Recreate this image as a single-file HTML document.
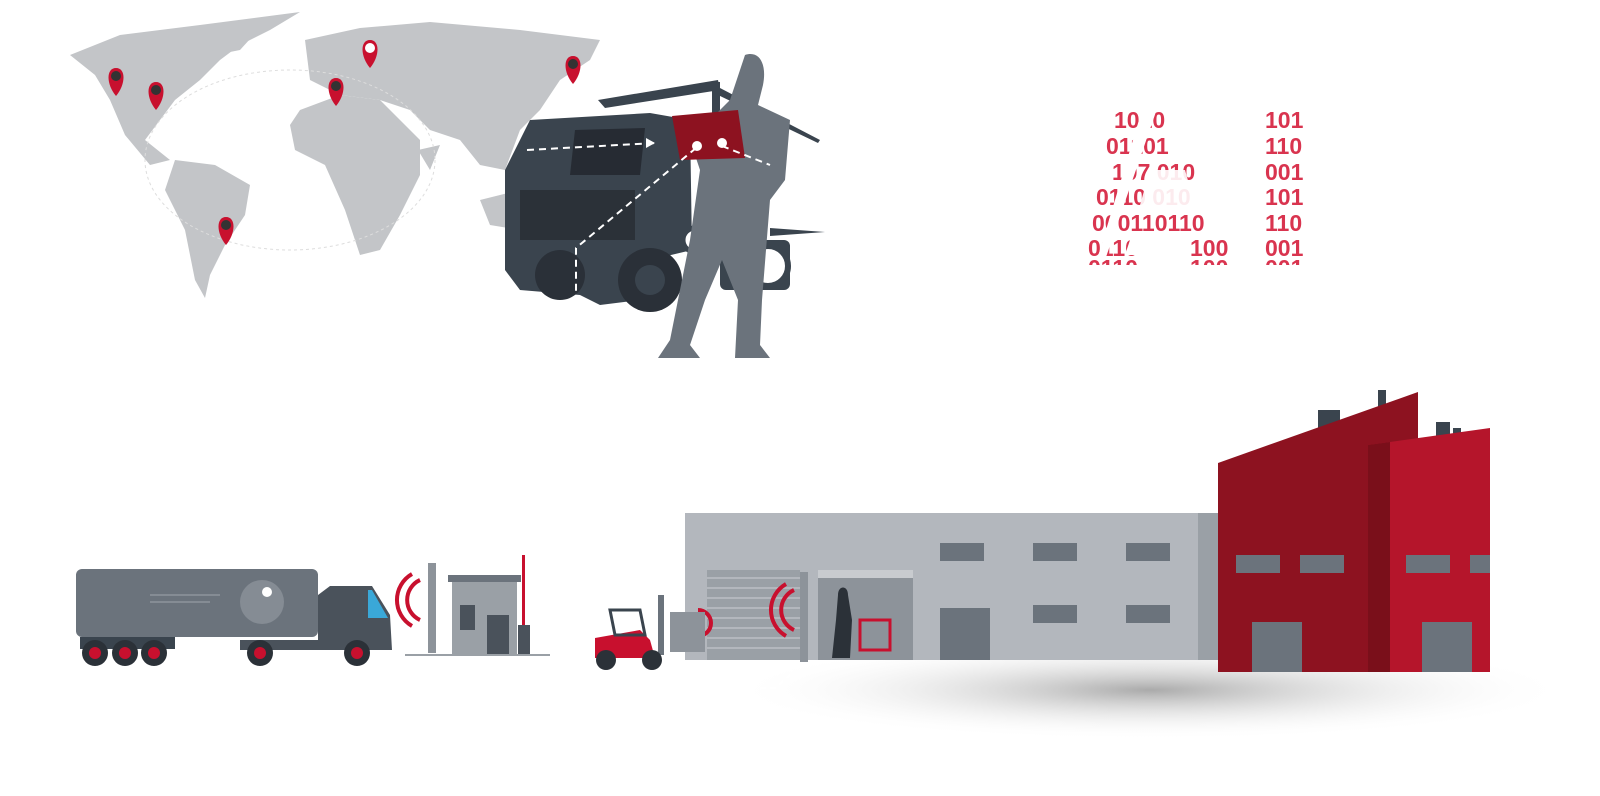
<!DOCTYPE html>
<html><head><meta charset="utf-8"><style>
html,body{margin:0;padding:0;background:#fff;width:1600px;height:796px;overflow:hidden}
svg{display:block}
text{font-family:"Liberation Sans",sans-serif;font-weight:bold;fill:#d9344f;font-size:23px}
</style></head><body>
<svg width="1600" height="796" viewBox="0 0 1600 796">
<defs>
<radialGradient id="sh" cx="0.5" cy="0.5" r="0.5"><stop offset="0" stop-color="#aaa"/><stop offset="1" stop-color="#fff" stop-opacity="0"/></radialGradient>
</defs>
<!-- world map -->
<g fill="#c3c5c8">
<path d="M70,55 L120,35 L200,25 L300,12 L270,30 L240,45 L220,60 L200,80 L175,100 L160,120 L145,140 L170,160 L150,165 L125,135 L110,100 L95,75 Z"/>
<path d="M175,160 L215,165 L250,185 L245,215 L225,245 L210,275 L205,298 L195,280 L185,230 L165,190 Z"/>
<path d="M200,30 L230,22 L260,28 L240,50 L215,55 Z"/>
<path d="M300,110 L340,95 L380,100 L420,140 L420,175 L400,215 L380,250 L360,255 L345,210 L325,165 L295,150 L290,125 Z"/>
<path d="M305,40 L360,28 L430,22 L520,30 L600,40 L590,60 L560,80 L540,110 L520,130 L505,170 L480,165 L460,140 L430,130 L410,110 L380,100 L340,95 L310,80 Z"/>
<path d="M418,150 L440,145 L430,170 Z"/>
<path d="M480,200 L520,190 L540,210 L520,230 L490,225 Z"/>
</g>
<g fill="none" stroke="#ddd" stroke-width="1" stroke-dasharray="3,3"><ellipse cx="290" cy="160" rx="145" ry="90"/></g>
<!-- pins -->
<g fill="#c8102e">
<path d="M116,96 c-10,-12 -10,-28 0,-28 c10,0 10,16 0,28z"/><circle cx="116" cy="76" r="5" fill="#333"/>
<path d="M156,110 c-10,-12 -10,-28 0,-28 c10,0 10,16 0,28z"/><circle cx="156" cy="90" r="5" fill="#333"/>
<path d="M226,245 c-10,-12 -10,-28 0,-28 c10,0 10,16 0,28z"/><circle cx="226" cy="225" r="5" fill="#333"/>
<path d="M336,106 c-10,-12 -10,-28 0,-28 c10,0 10,16 0,28z"/><circle cx="336" cy="86" r="5" fill="#333"/>
<path d="M370,68 c-10,-12 -10,-28 0,-28 c10,0 10,16 0,28z"/><circle cx="370" cy="48" r="5" fill="#fff"/>
<path d="M573,84 c-10,-12 -10,-28 0,-28 c10,0 10,16 0,28z"/><circle cx="573" cy="64" r="5" fill="#333"/>
</g>
<!-- truck top -->
<g fill="#3a444e">
<path d="M598,100 L718,80 L720,90 L605,108 Z"/>
<rect x="712" y="82" width="8" height="90"/>
<path d="M720,88 L820,140 L818,143 L718,95 Z"/>
<path d="M770,228 L825,232 L770,236 Z"/>
<rect x="720" y="240" width="70" height="50" rx="6"/>
<circle cx="768" cy="266" r="20" fill="#fff" stroke="#3a444e" stroke-width="6"/>
<path d="M530,120 L650,113 L690,120 L692,250 L650,260 L640,300 L600,305 L580,295 L520,290 L505,270 L505,170 Z"/>
<circle cx="650" cy="280" r="32" fill="#2a3038"/>
<circle cx="650" cy="280" r="15" fill="#3a444e"/>
<circle cx="560" cy="275" r="25" fill="#2a3038"/>
</g>
<path d="M575,130 L645,128 L640,175 L570,175 Z" fill="#262b33"/>
<rect x="520" y="190" width="115" height="50" fill="#2b3138"/>
<circle cx="695" cy="240" r="12" fill="#fff" stroke="#3a444e" stroke-width="5"/>
<!-- man -->
<path fill="#6b737c" d="M745,55 c15,-5 22,10 18,30 L758,105 L790,120 L785,180 L770,200 L762,300 L760,345 L770,358 L735,358 L738,300 L722,260 L705,300 L690,345 L700,358 L658,358 L670,340 L690,240 L700,170 L690,140 L730,100 Z"/>
<path fill="#8d1220" d="M672,116 L738,110 L745,158 L680,160 Z"/>
<g stroke="#fff" stroke-width="2" stroke-dasharray="7,5" fill="none">
<path d="M527,150 L655,143"/><path d="M696,148 L576,248 L576,295"/><path d="M722,146 L770,165"/>
<path d="M242,570 L270,594"/><path d="M1222,465 L1275,505"/><path d="M905,515 L890,600"/><path d="M922,515 L905,600"/>
</g>
<path d="M655,143 l-9,-5 l0,10z" fill="#fff"/>
<circle cx="697" cy="146" r="5" fill="#fff"/><circle cx="722" cy="143" r="5" fill="#fff"/>
<!-- binary -->
<text x="1114" y="128">1010</text>
<text x="1106" y="154">01101</text>
<text x="1112" y="180">107 010</text>
<text x="1096" y="205">0110 010</text>
<text x="1092" y="231">000110110</text>
<text x="1088" y="256">0110</text><text x="1190" y="256">100</text>
<text x="1088" y="276">0110</text><text x="1190" y="276">100</text>
<g><text x="1265" y="128">101</text><text x="1265" y="154">110</text><text x="1265" y="180">001</text><text x="1265" y="205">101</text><text x="1265" y="231">110</text><text x="1265" y="256">001</text><text x="1265" y="276">001</text></g>
<rect x="1080" y="265" width="240" height="30" fill="#fff"/>
<g fill="#fff"><path d="M1145,100 L1160,100 L1105,260 L1097,260Z"/><path d="M1190,100 L1200,100 L1245,260 L1235,260Z"/><path d="M1150,170 L1185,170 L1195,205 L1140,205Z" opacity="0.9"/><path d="M1130,240 L1185,240 L1190,255 L1125,255Z"/></g>
<!-- shadow -->
<ellipse cx="1150" cy="690" rx="420" ry="50" fill="url(#sh)"/>
<!-- warehouse -->
<rect x="685" y="513" width="535" height="147" fill="#b3b7bd"/>
<rect x="707" y="570" width="93" height="90" fill="#9aa0a6"/>
<g stroke="#b3b7bd" stroke-width="2"><path d="M707,578h93M707,588h93M707,598h93M707,608h93M707,618h93M707,628h93M707,638h93M707,648h93"/></g>
<rect x="818" y="570" width="95" height="90" fill="#8d939a"/>
<rect x="818" y="570" width="95" height="8" fill="#c8cbcf"/>
<g fill="#6b737c"><rect x="940" y="543" width="44" height="18"/><rect x="1033" y="543" width="44" height="18"/><rect x="1126" y="543" width="44" height="18"/><rect x="1033" y="605" width="44" height="18"/><rect x="1126" y="605" width="44" height="18"/><rect x="940" y="608" width="50" height="52"/></g>
<rect x="1198" y="513" width="22" height="147" fill="#9aa0a6"/>
<path d="M838,595 c0,-10 10,-10 10,0 L852,620 L850,658 L832,658 L836,620 Z" fill="#2b3138"/>
<rect x="860" y="620" width="30" height="30" fill="none" stroke="#c8102e" stroke-width="3"/>
<!-- red factory -->
<rect x="1318" y="410" width="22" height="30" fill="#3a444e"/><rect x="1378" y="390" width="8" height="30" fill="#3a444e"/>
<rect x="1436" y="422" width="14" height="30" fill="#3a444e"/><rect x="1453" y="428" width="8" height="20" fill="#3a444e"/>
<path d="M1218,463 L1418,392 L1418,672 L1218,672 Z" fill="#8d1220"/>
<path d="M1368,445 L1490,428 L1490,672 L1368,672 Z" fill="#b5152b"/>
<path d="M1368,445 L1390,442 L1390,672 L1368,672 Z" fill="#7a0f1a"/>
<g fill="#6b737c"><rect x="1236" y="555" width="44" height="18"/><rect x="1300" y="555" width="44" height="18"/><rect x="1406" y="555" width="44" height="18"/><rect x="1470" y="555" width="20" height="18"/><rect x="1252" y="622" width="50" height="50"/><rect x="1422" y="622" width="50" height="50"/></g>
<!-- semi truck -->
<rect x="76" y="569" width="242" height="68" rx="6" fill="#6b737c"/>
<circle cx="262" cy="602" r="22" fill="#858c94"/><circle cx="267" cy="592" r="5" fill="#fff"/>
<g stroke="#858c94" stroke-width="2"><path d="M150,595h70M150,602h60"/></g>
<rect x="80" y="637" width="95" height="12" fill="#3a444e"/>
<path d="M318,595 L330,586 L372,586 L390,615 L392,650 L240,650 L240,640 L318,640Z" fill="#4a525b"/>
<path d="M372,590 L388,618 L368,618 L368,590Z" fill="#3aa8d8"/>
<g fill="#2b3138"><circle cx="95" cy="653" r="13"/><circle cx="125" cy="653" r="13"/><circle cx="154" cy="653" r="13"/><circle cx="260" cy="653" r="13"/><circle cx="357" cy="653" r="13"/></g>
<g fill="#c8102e"><circle cx="95" cy="653" r="6"/><circle cx="125" cy="653" r="6"/><circle cx="154" cy="653" r="6"/><circle cx="260" cy="653" r="6"/><circle cx="357" cy="653" r="6"/></g>
<!-- gate -->
<rect x="428" y="563" width="8" height="90" fill="#8d939a"/>
<rect x="452" y="578" width="65" height="77" fill="#9aa0a6"/><rect x="448" y="575" width="73" height="7" fill="#6b737c"/>
<rect x="460" y="605" width="15" height="25" fill="#4a525b"/><rect x="487" y="615" width="22" height="40" fill="#4a525b"/>
<rect x="522" y="555" width="3" height="70" fill="#c8102e"/><rect x="518" y="625" width="12" height="30" fill="#4a525b"/>
<path d="M405,655h145" stroke="#9aa0a6" stroke-width="2"/>
<g fill="none" stroke="#c8102e" stroke-width="4"><path d="M420,580 a22,22 0 0 0 0,40"/><path d="M412,574 a30,30 0 0 0 0,52"/><path d="M794,590 a22,22 0 0 0 0,40"/><path d="M786,584 a30,30 0 0 0 0,52"/><path d="M698,610 a12,12 0 0 1 0,26"/></g>
<rect x="800" y="572" width="8" height="90" fill="#8d939a"/>
<!-- forklift -->
<rect x="658" y="595" width="6" height="60" fill="#6b737c"/><rect x="670" y="612" width="35" height="40" fill="#8d939a"/>
<path d="M595,638 L640,630 L650,640 L655,658 L595,658 Z" fill="#c8102e"/><path d="M610,610 L640,610 L645,635 L615,635Z" fill="none" stroke="#3a444e" stroke-width="3"/>
<circle cx="606" cy="660" r="10" fill="#2b3138"/><circle cx="652" cy="660" r="10" fill="#2b3138"/>
<path d="M700,688 L775,688 L790,675" stroke="#fff" stroke-width="2" stroke-dasharray="6,4" fill="none"/>
</svg>
</body></html>
